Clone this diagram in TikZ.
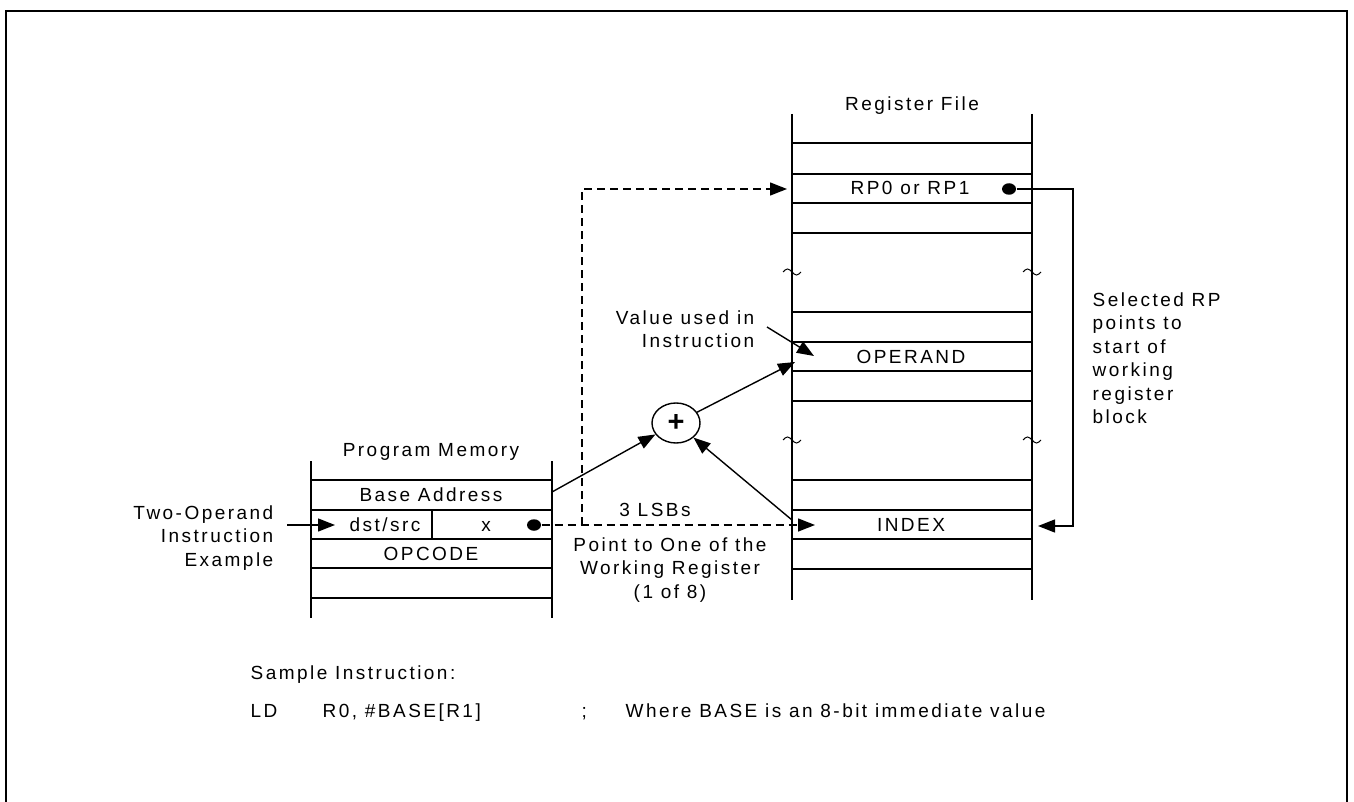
\documentclass[tikz,border=0pt]{standalone}
\usepackage{fontspec}
\setmainfont{Liberation Sans}[LetterSpace=13]
\usetikzlibrary{arrows.meta,shapes.geometric}
\begin{document}
\begin{tikzpicture}[x=1pt,y=-1pt, line width=1.4pt,
  txt/.style={font=\fontsize{19}{23.5}\selectfont, inner sep=0pt},
  arr/.style={-{Triangle[length=17pt,width=13pt]}},
  dsh/.style={dash pattern=on 8pt off 5pt},
  dotc/.style={ellipse, fill, draw=none, inner sep=0pt, minimum width=14pt, minimum height=11.5pt},
  brk/.style={line width=1pt}]
\useasboundingbox (0,0) rectangle (1354,802);
% outer frame
\draw[line width=2pt] (6,815) -- (6,11) -- (1347,11) -- (1347,815);

% register file
\foreach \y in {143,174,203,233,312,342,371,401,480,510,539,569}
  \draw (792,\y) -- (1032,\y);
\draw (792,114) -- (792,600);
\draw (1032,114) -- (1032,600);
\foreach \xx in {792,1032}
  \foreach \yy in {272,440}
    \draw[brk] (\xx-9,\yy) sin (\xx-4.5,\yy-3) cos (\xx,\yy) sin (\xx+4.5,\yy+3) cos (\xx+9,\yy);

% program memory
\foreach \y in {480,510,539,568,598}
  \draw (311,\y) -- (552,\y);
\draw (311,461) -- (311,618);
\draw (552,461) -- (552,618);
\draw (432,510) -- (432,539);

% texts
\node[txt, anchor=base] (rftitle) at (912,111) {Register File};
\node[txt, anchor=base] (rp) at (910,195) {RP0 or RP1};
\node[txt, anchor=base] (operand) at (911,363) {OPERAND};
\node[txt, anchor=base] (index) at (911,531) {INDEX};
\node[txt, anchor=base] (pmtitle) at (431,456) {Program Memory};
\node[txt, anchor=base] (base) at (431,501) {Base Address};
\node[txt, anchor=base] (dst) at (385,531) {dst/src};
\node[txt, anchor=base] (xf) at (486,531) {x};
\node[txt, anchor=base] (opc) at (431,560) {OPCODE};
\node[txt, align=right, anchor=north east] (twoop) at (274,505) {Two-Operand\\Instruction\\Example};
\node[txt, align=right, anchor=north east] (val) at (755,310) {Value used in\\Instruction};
\node[txt, anchor=base] (lsb) at (655,516) {3 LSBs};
\node[txt, align=center, anchor=north] (pt) at (670,537) {Point to One of the\\Working Register\\(1 of 8)};
\node[txt, align=left, anchor=north west] (sel) at (1092,292) {Selected RP\\points to\\start of\\working\\register\\block};
\node[txt, anchor=base west] (sample) at (250,679) {Sample Instruction:};
\node[txt, anchor=base west] (ld) at (250,717) {LD};
\node[txt, anchor=base west] (ops) at (322,717) {R0, \#BASE[R1]};
\node[txt, anchor=base west] (semi) at (581,717) {;};
\node[txt, anchor=base west] (cmt) at (625,717) {Where BASE is an 8-bit immediate value};

% dots and adder
\node[dotc] (xdot) at (534,525) {};
\node[dotc] (rpdot) at (1009,189) {};
\node[draw, ellipse, inner sep=0pt, minimum width=48pt, minimum height=40pt] (plus) at (676,423) {\fontsize{29}{29}\selectfont\bfseries +};

% coordinates
\coordinate (tw) at (287,525);
\coordinate (dstin) at (335,525);
\coordinate (idxin) at (815,525);
\coordinate (br) at (582,525);
\coordinate (rpin) at (787,189);
\coordinate (bas) at (552,492);
\coordinate (opin) at (795,362);
\coordinate (idxout) at (792,520);
\coordinate (vs) at (767,327);
\coordinate (ve) at (814,356);
\coordinate (rpr) at (1073,189);
\coordinate (idxr) at (1038,526);

% connectors
\draw[arr] (tw) -- (dstin);
\draw[dsh, arr] (xdot) -- (idxin);
\draw[dsh, arr] (br) -- (br |- rpin) -- (rpin);
\draw[arr] (bas) -- (plus);
\draw[arr] (plus) -- (opin);
\draw[arr] (idxout) -- (plus);
\draw[arr] (vs) -- (ve);
\draw[arr] (rpdot.east) -- (rpr) -- (rpr |- idxr) -- (idxr);
\end{tikzpicture}
\end{document}
